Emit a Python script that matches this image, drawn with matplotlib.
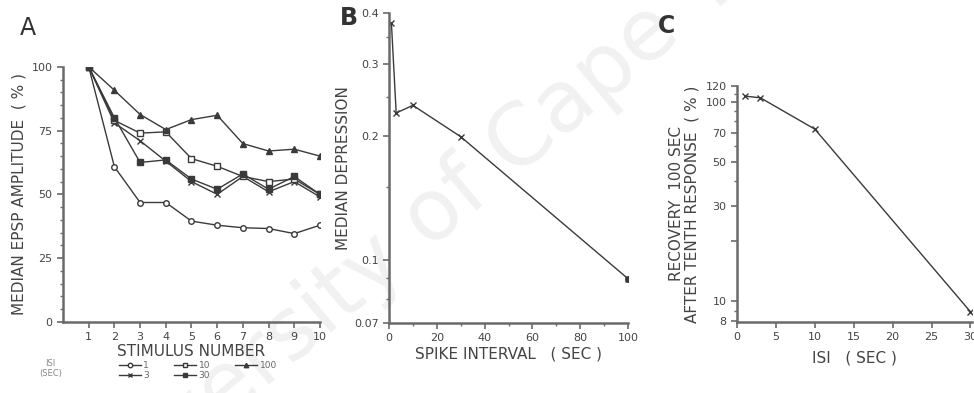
import matplotlib
matplotlib.use("Agg")
import matplotlib.pyplot as plt
from matplotlib.ticker import FixedLocator, NullFormatter, FixedFormatter, MultipleLocator

# ---- Panel A data ----
stim = [1, 2, 3, 4, 5, 6, 7, 8, 9, 10]
isi_labels = ["1", "3", "10", "30", "100"]
amp_isi1 = [100, 60.8, 46.8, 46.8, 39.5, 37.9, 36.9, 36.6, 34.6, 37.9]
amp_isi3 = [100, 78, 71, 63, 55, 50, 57, 51, 55, 49]
amp_isi10 = [100, 79, 74, 74.5, 64, 61, 57, 55, 56, 50]
amp_isi30 = [100, 80, 62.5, 63.5, 56, 52, 58, 52, 57, 50]
amp_isi100 = [100, 90.8, 81.3, 75.4, 79.3, 81, 69.9, 67, 67.7, 65]

# ---- Panel B data ----
spike_interval = [1, 3, 10, 30, 100]
median_depression = [0.378, 0.228, 0.238, 0.1995, 0.0898]

# ---- Panel C data ----
isi_c = [1, 3, 10, 30]
recovery = [106.9, 104.8, 73, 8.87]

LC = "#3a3a3a"
AX = "#6a6a6a"

fig = plt.figure(figsize=(9.74, 3.93), dpi=100)

# watermark (behind everything)
fig.text(0.47, 0.50, "University of Cape Town", rotation=40, fontsize=62,
         color="#f1f1f1", ha="center", va="center", zorder=-5)

def style(ax):
    ax.patch.set_alpha(0)
    for s in ["top", "right"]:
        ax.spines[s].set_visible(False)
    for s in ["left", "bottom"]:
        ax.spines[s].set_color(AX)
        ax.spines[s].set_linewidth(1.8)
    ax.tick_params(which="major", length=4, width=1.2, color=AX, labelsize=8, labelcolor="#444444")
    ax.tick_params(which="minor", length=2.5, width=1.0, color=AX)

# ---- Panel A ----
axA = fig.add_axes([0.0647, 0.181, 0.2638, 0.649])
style(axA)
series = [amp_isi1, amp_isi3, amp_isi10, amp_isi30, amp_isi100]
markers = ["o", "x", "s", "s", "^"]
mfc = ["white", LC, "white", LC, LC]
handles = []
for vals, m, fc, lab in zip(series, markers, mfc, isi_labels):
    h, = axA.plot(stim, vals, color=LC, lw=1.0, marker=m, ms=4, mfc=fc, mec=LC,
                  mew=1.0, label=lab)
    handles.append(h)
axA.set_xlim(0, 10)
axA.set_ylim(0, 100)
axA.set_xticks(stim)
axA.set_yticks([0, 25, 50, 75, 100])
axA.yaxis.set_minor_locator(MultipleLocator(5))
axA.set_xlabel("STIMULUS NUMBER", fontsize=11, color="#444444", labelpad=1)
axA.set_ylabel("MEDIAN EPSP AMPLITUDE  ( % )", fontsize=11, color="#444444", labelpad=4)
leg = axA.legend(handles=handles, ncol=3, loc="upper left", bbox_to_anchor=(0.2, -0.135),
                 frameon=False, fontsize=6.5, handlelength=2.4, handletextpad=0.3,
                 columnspacing=2.8, labelspacing=0.15, borderpad=0, markerscale=0.8)
for t in leg.get_texts():
    t.set_color("#666666")
fig.text(0.052, 0.063, "ISI\n(SEC)", fontsize=6, color="#888888", ha="center", va="center",
         linespacing=1.1)

# ---- Panel B ----
axB = fig.add_axes([0.3994, 0.178, 0.2454, 0.789])
style(axB)
axB.plot(spike_interval, median_depression, color=LC, lw=1.0, marker="x", ms=4, mew=1.0)
axB.plot(spike_interval[-1:], median_depression[-1:], color=LC, marker="o", ms=4, ls="none")
axB.set_yscale("log")
axB.set_xlim(0, 100)
axB.set_ylim(0.07, 0.4)
axB.set_xticks([0, 20, 40, 60, 80, 100])
axB.xaxis.set_minor_locator(MultipleLocator(10))
axB.yaxis.set_major_locator(FixedLocator([0.07, 0.1, 0.2, 0.3, 0.4]))
axB.yaxis.set_major_formatter(FixedFormatter(["0.07", "0.1", "0.2", "0.3", "0.4"]))
axB.yaxis.set_minor_locator(FixedLocator([0.08, 0.09, 0.15, 0.25, 0.35]))
axB.yaxis.set_minor_formatter(NullFormatter())
axB.set_xlabel("SPIKE INTERVAL   ( SEC )", fontsize=11, color="#444444", labelpad=2)
axB.set_ylabel("MEDIAN DEPRESSION", fontsize=11, color="#444444", labelpad=2)

# ---- Panel C ----
axC = fig.add_axes([0.7567, 0.181, 0.2413, 0.60])
style(axC)
axC.plot(isi_c, recovery, color=LC, lw=1.0, marker="x", ms=4, mew=1.0)
axC.set_yscale("log")
axC.set_xlim(0, 30.2)
axC.set_ylim(7.9, 120)
axC.set_xticks([0, 5, 10, 15, 20, 25, 30])
axC.yaxis.set_major_locator(FixedLocator([8, 10, 20, 30, 50, 70, 100, 120]))
axC.yaxis.set_major_formatter(FixedFormatter(["8", "10", "", "30", "50", "70", "100", "120"]))
axC.yaxis.set_minor_locator(FixedLocator([9, 40, 60, 80, 90, 110]))
axC.yaxis.set_minor_formatter(NullFormatter())
axC.set_xlabel("ISI   ( SEC )", fontsize=11, color="#444444", labelpad=6)
axC.set_ylabel("RECOVERY  100 SEC\nAFTER TENTH RESPONSE  ( % )", fontsize=11,
               color="#444444", labelpad=4, linespacing=1.1)

# panel letters
fig.text(0.020, 0.93, "A", fontsize=17, color="#333333", va="center")
fig.text(0.349, 0.955, "B", fontsize=17, color="#333333", va="center", weight="bold")
fig.text(0.675, 0.935, "C", fontsize=17, color="#333333", va="center", weight="bold")

fig.savefig("out.png", dpi=100)
